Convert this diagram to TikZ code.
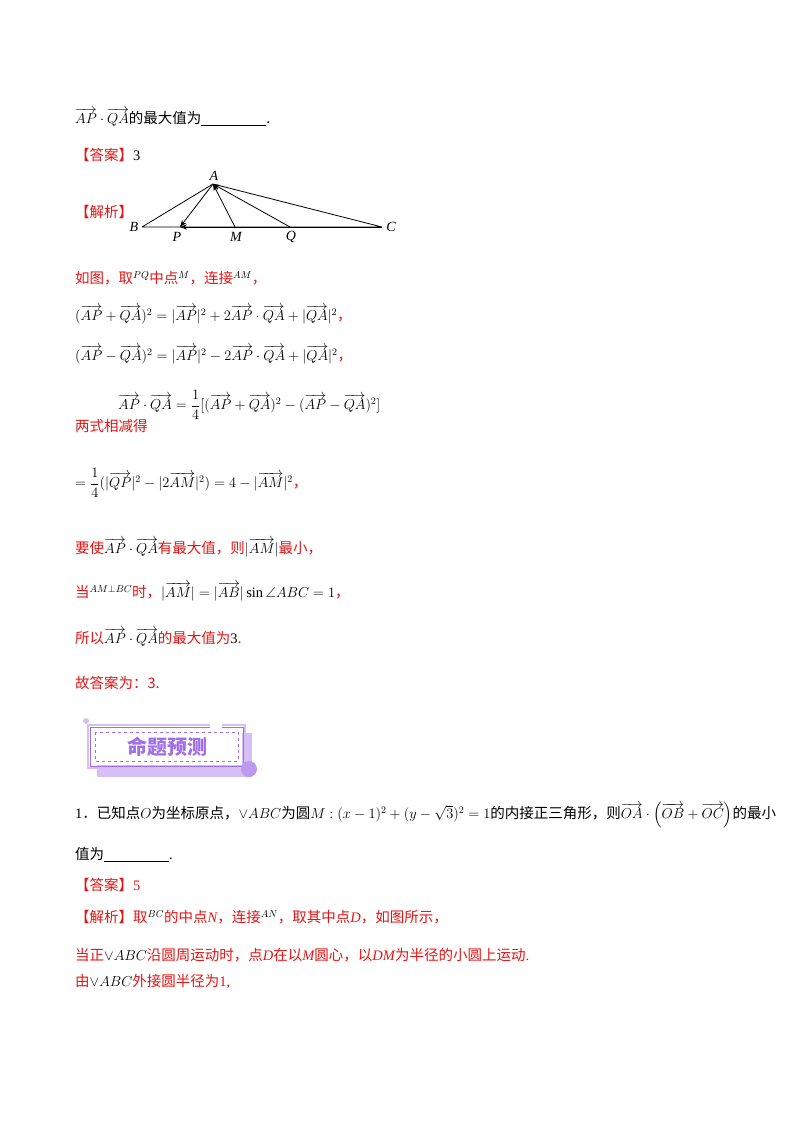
\documentclass[tikz,border=0pt]{standalone}
\usepackage{fontspec}
\usepackage{amsmath,amssymb}
\usetikzlibrary{arrows.meta}
\setmainfont{Liberation Serif}
\newfontfamily\cjk{Noto Sans CJK SC}
\definecolor{ansred}{RGB}{230,20,20}
\definecolor{bpurple}{RGB}{160,110,230}
\definecolor{lpurple}{RGB}{215,190,245}
\newcommand{\vv}[1]{\overrightarrow{#1}}
\begin{document}
\begin{tikzpicture}[x=1pt,y=-1pt,
  txt/.style={anchor=west,inner sep=0pt,font=\fontsize{14.5}{16}\selectfont},
  red/.style={txt,text=ansred},
  lbl/.style={inner sep=1pt,font=\fontsize{14}{16}\selectfont\itshape},
  vec/.style={-{Stealth[length=7pt]},line width=0.8pt}]
\useasboundingbox (0,0) rectangle (800,1132);
\fill[white] (0,0) rectangle (800,1132);
\node[txt] (l1) at (75,117) {$\vv{AP}\cdot\vv{QA}$\cjk 的最大值为\underline{\hspace{65pt}}.};
\node[red] (ans1) at (75,155) {\cjk 【答案】\textcolor{black}{\rmfamily 3}};
\node[red] (jx1) at (75,212) {\cjk 【解析】};
% figure
\coordinate (A) at (213,184);
\coordinate (B) at (142,227);
\coordinate (C) at (382,227);
\coordinate (P) at (180,227);
\coordinate (M) at (235,227);
\coordinate (Q) at (290,227);
\draw[line width=0.8pt] (A)--(B) (A)--(C) (B)--(C);
\draw[vec] (A)--(P);
\draw[vec] (M)--(A);
\draw[vec] (Q)--(A);
\draw[vec] (C)--(P);
\node[lbl] (la) at (214,176) {A};
\node[lbl] (lb) at (134,227) {B};
\node[lbl] (lc) at (391,227) {C};
\node[lbl] (lp) at (177,237) {P};
\node[lbl] (lm) at (236,237) {M};
\node[lbl] (lq) at (291,237) {Q};
% solution
\node[red] (s1) at (75,278) {\cjk 如图，取\textcolor{black}{$^{PQ}$}中点\textcolor{black}{$^{M}$}，连接\textcolor{black}{$^{AM}$}，};
\node[txt] (s2) at (75,315) {$(\vv{AP}+\vv{QA})^2=|\vv{AP}|^2+2\vv{AP}\cdot\vv{QA}+|\vv{QA}|^2$\textcolor{ansred}{\cjk ，}};
\node[txt] (s3) at (75,355) {$(\vv{AP}-\vv{QA})^2=|\vv{AP}|^2-2\vv{AP}\cdot\vv{QA}+|\vv{QA}|^2$\textcolor{ansred}{\cjk ，}};
\node[red] (s4a) at (75,426) {\cjk 两式相减得};
\node[txt] (s4) at (118,405) {$\vv{AP}\cdot\vv{QA}=\dfrac14[(\vv{AP}+\vv{QA})^2-(\vv{AP}-\vv{QA})^2]$};
\node[txt] (s5) at (75,483) {$=\dfrac14(|\vv{QP}|^2-|2\vv{AM}|^2)=4-|\vv{AM}|^2$\textcolor{ansred}{\cjk ，}};
\node[red] (s6) at (75,548) {\cjk 要使\textcolor{black}{$\vv{AP}\cdot\vv{QA}$}有最大值，则\textcolor{black}{$|\vv{AM}|$}最小，};
\node[red] (s7) at (75,592) {\cjk 当\textcolor{black}{$^{AM\perp BC}$}时，\textcolor{black}{$|\vv{AM}|=|\vv{AB}|\sin\angle ABC=1$}，};
\node[red] (s8) at (75,637) {\cjk 所以\textcolor{black}{$\vv{AP}\cdot\vv{QA}$}的最大值为\textcolor{black}{\rmfamily 3}.};
\node[red] (s9) at (75,683) {\cjk 故答案为：3.};
% banner
\fill[lpurple] (97,733) rectangle (252,777);
\draw[lpurple,line width=1.5pt] (88,725) -- (245,725) -- (245,768) -- (88,768) -- cycle;
\draw[bpurple,line width=1pt] (90,727) rectangle (243,766);
\fill[white] (91,728) rectangle (242,765);
\draw[bpurple,dashed,line width=0.5pt] (95,732) rectangle (238,761);
\fill[white] (210,724) rectangle (222,728);
\fill[lpurple] (86,721) circle (3);
\fill[bpurple!70] (249,769) circle (8);
\node[inner sep=0pt,text=bpurple,font=\fontsize{20}{22}\selectfont\cjk\bfseries] (bt) at (167,747) {命题预测};
% problem
\node[txt] (p1) at (75,815) {1\cjk ．已知点\rmfamily$O$\cjk 为坐标原点，\rmfamily$\vee ABC$\cjk 为圆\rmfamily$M:(x-1)^2+(y-\sqrt3)^2=1$\cjk 的内接正三角形，则\rmfamily$\vv{OA}\cdot\left(\vv{OB}+\vv{OC}\right)$\cjk 的最小};
\node[txt] (p2) at (75,855) {\cjk 值为\rmfamily\underline{\hspace{65pt}}.};
\node[red] (ans2) at (75,885) {\cjk 【答案】\rmfamily 5};
\node[red] (p3) at (75,917) {\cjk 【解析】取\textcolor{black}{$^{BC}$}的中点\rmfamily\itshape N\cjk\upshape ，连接\textcolor{black}{$^{AN}$}，取其中点\rmfamily\itshape D\cjk\upshape ，如图所示，};
\node[red] (p4) at (75,955) {\cjk 当正\textcolor{black}{$\vee ABC$}沿圆周运动时，点\rmfamily\itshape D\cjk\upshape 在以\rmfamily\itshape M\cjk\upshape 圆心，以\rmfamily\itshape DM\cjk\upshape 为半径的小圆上运动\rmfamily.};
\node[red] (p5) at (75,982) {\cjk 由\textcolor{black}{$\vee ABC$}外接圆半径为\rmfamily 1,};
\end{tikzpicture}
\end{document}
